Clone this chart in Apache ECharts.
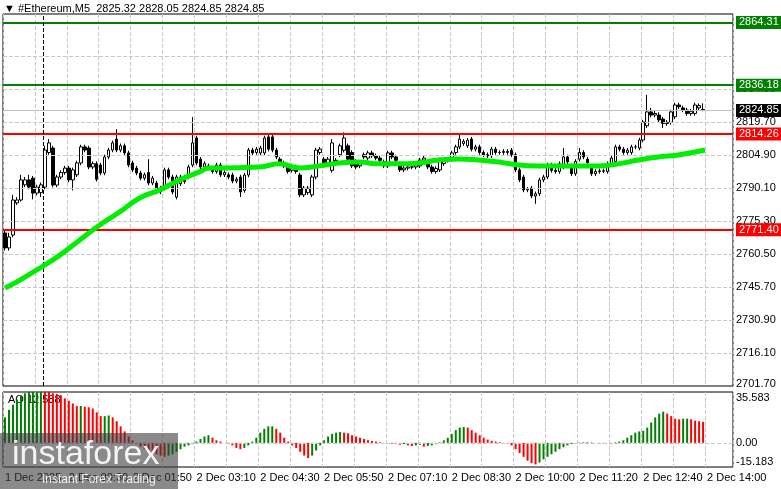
<!DOCTYPE html>
<html>
<head>
<meta charset="utf-8">
<script src="https://cdn.jsdelivr.net/npm/echarts@6/dist/echarts.min.js"></script>
<style>
html,body{margin:0;padding:0;background:#fff;}
#chart{width:781px;height:489px;}
</style>
</head>
<body>
<div id="chart"></div>
<script>
// 5分钟K线 [open, close, low, high]
var candles = [
[2769.9,2763.2,2762,2771],[2763.2,2768.1,2762,2770],[2769,2784.7,2768,2787],[2783.4,2784.7,2782.5,2786],
[2784.7,2793.7,2784,2796],[2791.5,2793.7,2790.5,2795],[2793.7,2790.5,2789.5,2796],[2794.5,2787.8,2785,2795.5],
[2787.8,2790.5,2786.8,2791.5],[2788,2791.5,2786,2792.5],[2790.5,2807.1,2789.5,2809],[2806,2810.3,2805,2812],
[2808,2791.4,2790.4,2809],[2791.4,2795,2790.4,2796],[2795,2797,2794,2798],[2797,2799,2796,2800],
[2799,2793.7,2792.7,2800],[2793.7,2798.2,2789,2799.2],[2796,2801.3,2795,2802.3],[2801.3,2808.5,2800.3,2809.5],
[2808.5,2807.1,2806.1,2809.5],[2808,2799.5,2798.5,2809],[2799.5,2801,2798.5,2802],[2801,2794,2793,2802],
[2800.4,2796.8,2795.8,2801.4],[2796.8,2804,2795.8,2805],[2804,2807.1,2803,2808.1],[2807.1,2810.3,2806.1,2811.3],
[2812,2807.1,2806.1,2816.5],[2807.1,2809,2806.1,2810],[2809,2805.8,2804.8,2810],[2805.8,2800.4,2799.4,2806.8],
[2801.3,2798.2,2797.2,2802.3],[2799,2796.8,2795.8,2800],[2796.8,2794.5,2793.5,2797.8],[2794.5,2796,2793.5,2797],
[2797,2792.3,2791.3,2803],[2792.3,2794.5,2791.3,2795.5],[2792.3,2788.3,2787.3,2793.3],[2788.3,2790,2787.3,2791],
[2790,2798.2,2789,2799.2],[2798.2,2795,2794,2799.2],[2795,2788.3,2787.3,2796],[2786,2795,2785,2796],
[2792,2795,2791,2796],[2795,2793,2792,2796],[2795,2799.5,2794,2800.5],[2800.4,2810.3,2799.4,2821.9],
[2812.5,2801.3,2800.3,2813.5],[2803,2799.5,2798.5,2804],[2799.5,2801,2798.5,2802],[2800,2799,2798,2801],
[2799,2797.5,2796.5,2800],[2797.5,2800.4,2796.5,2801.4],[2800.4,2796,2795,2801.4],[2796,2797,2795,2798],
[2796,2795,2794,2797],[2795.9,2793.2,2792.2,2796.9],[2793.2,2794,2792.2,2795],[2795,2788.3,2786,2796],
[2789,2795.9,2788,2796.9],[2795.9,2807.1,2794.9,2808.1],[2807.1,2805.8,2804.8,2808.1],[2806,2807.5,2805,2808.5],
[2805.8,2808,2804.8,2809],[2805.8,2812.5,2804.8,2813.5],[2813,2807.5,2806.5,2814],[2813,2807.1,2806.1,2814],
[2807.1,2804,2803,2808.1],[2803,2801.3,2800.3,2804],[2801.3,2800,2799,2802.3],[2800,2797.5,2796.5,2801],
[2798,2800,2797,2801],[2799.5,2797.5,2796.5,2800.5],[2795.9,2787,2786,2796.9],[2787,2790,2786,2791],
[2788,2790,2787,2791],[2787,2795,2786,2796],[2795,2807.1,2794,2808.1],[2806,2807.5,2805,2808.5],
[2803,2801,2800,2804],[2801,2803,2800,2804],[2798,2810.3,2797,2812],[2801,2802.5,2800,2803.5],
[2805,2809,2804,2810],[2807,2812.5,2806,2815],[2809,2803,2802,2810],[2806,2800,2799,2807],
[2802,2799.5,2798.5,2803],[2800,2801,2799,2802],[2805,2804,2803,2806],[2803.5,2805.8,2802.5,2806.8],
[2805.8,2804.5,2803.5,2806.8],[2804.5,2803.5,2802.5,2805.5],[2803.5,2802.5,2801.5,2804.5],[2801.8,2800,2799,2802.8],
[2800,2805.8,2799,2806.8],[2805.8,2804,2803,2806.8],[2804,2802.5,2801.5,2805],[2801,2798.2,2797.2,2802],
[2798.2,2799,2797.2,2800],[2799,2799.5,2798,2800.5],[2799.5,2799.5,2798.5,2800.5],[2799.5,2800.5,2798.5,2801.5],
[2800,2802.6,2799,2803.6],[2802.6,2803.5,2801.6,2804.5],[2801,2799.5,2798.5,2802],[2799.5,2797.5,2796.5,2800.5],
[2797.5,2798.8,2796.5,2799.8],[2798.2,2802.6,2797.2,2803.6],[2801,2802.5,2800,2803.5],[2802.5,2803,2801.5,2804],
[2803,2805.8,2802,2806.8],[2806,2808.5,2805,2809.5],[2808.5,2812,2807.5,2814],[2810,2811,2809,2812],
[2809,2811.5,2808,2812.5],[2812,2807.5,2806.5,2813],[2807.5,2808.5,2806.5,2809.5],[2808.5,2806,2805,2809.5],
[2806,2805,2804,2807],[2805,2804.5,2803.5,2806],[2804.5,2807.5,2803.5,2808.5],[2807.5,2806,2805,2808.5],
[2806,2806,2805,2807],[2806,2806.5,2805,2807.5],[2806,2806.5,2805,2807.5],[2807,2805,2804,2808],
[2805,2798.2,2797.2,2806],[2798.2,2793.7,2792.7,2799.2],[2795,2789.2,2788.2,2796],[2789.2,2789.5,2788.2,2790.5],
[2790,2786.5,2785.5,2791],[2786.5,2787.5,2783,2788.5],[2787.5,2793.7,2786.5,2794.7],[2793.7,2795,2792.7,2796],
[2795,2800.4,2794,2801.4],[2800.4,2798,2797,2801.4],[2798,2797.5,2796.5,2799],[2797.5,2801,2796.5,2802],
[2799.5,2804,2798.5,2808],[2804,2801.8,2800.8,2805],[2800,2796.5,2795.5,2801],[2796.5,2802,2795.5,2803],
[2803,2806,2802,2808],[2806,2804,2803,2807],[2803,2801.5,2800.5,2804],[2799,2796.5,2795.5,2800],
[2796.5,2797.5,2795.5,2798.5],[2797.5,2797.8,2796.5,2798.8],[2797.8,2797.6,2796.8,2798.8],[2797.5,2801,2796.5,2802],
[2801,2803.5,2800,2804.5],[2802,2808.5,2801,2809.5],[2808.5,2807.5,2806.5,2809.5],[2807.5,2806,2805,2808.5],
[2806,2807,2805,2808],[2806,2808.5,2805,2809.5],[2808.5,2808.5,2807.5,2809.5],[2808,2811.6,2807,2812.6],
[2811.6,2819.6,2810.6,2820.6],[2818,2824.2,2817,2831.8],[2824.2,2822.8,2821.8,2826],[2822.8,2823.5,2821.8,2825],
[2822.8,2820.6,2819.6,2824],[2821,2819,2817,2822],[2819,2819.5,2818,2820.5],[2819.5,2824.2,2818.5,2825.2],
[2822,2827.3,2821,2828.3],[2827.3,2826.5,2825.5,2828.3],[2826,2825.1,2824.1,2827],[2825,2823.5,2822.5,2826],
[2823.5,2824.5,2822.5,2825.5],[2823.5,2827.3,2822.5,2828.3],[2826,2827,2825,2828],[2825.32,2824.85,2824.5,2828.05]
];

// 均线（按图读出的点：[K线序号, 价格]）
var maIdx = [0, 3.75, 8.75, 13.75, 18.75, 23.75, 28.75, 33.75, 38.75, 43.75, 48.75, 51.25, 53.75, 63.75, 68.75, 73.75, 78.75, 83.75, 88.75, 93.75, 98.75, 103.75, 108.75, 113.75, 118.75, 123.75, 128.75, 133.75, 143.75, 148.75, 153.75, 158.75, 163.75, 168.75, 175.5];
var maVal = [2745.2, 2748.8, 2754.2, 2760.0, 2766.8, 2773.5, 2779.3, 2785.6, 2789.2, 2793.7, 2797.3, 2799.1, 2799.1, 2799.5, 2800.9, 2799.1, 2800.0, 2801.3, 2801.7, 2800.9, 2800.9, 2801.3, 2802.6, 2803.1, 2802.6, 2801.7, 2800.4, 2800.0, 2800.0, 2800.0, 2800.9, 2802.6, 2804.0, 2804.9, 2807.1];

// AO 指标
var aoValues = [
20,26,30,34,37,
39,40,41,41.5,42,41,40,39,38.5,37.5,
35,33,31,29,29,28.5,28,27,24,21,
21,21.5,20,17,13,9,5,
2,-1,-3,-5,-6,-8,-9,-10,-11,-10,-9,
-7,-5,-3,-2,-1,
1,3,5,6,4,2,
1,0,-1,-2,-4,-5,-4,
-2,1,4,8,11,13,
13,11,8,4,1,-2,
-4,-7,-10,-12,-10,-6,-2,
2,5,7,8,8.5,8,7.5,6,5,
4,3,2,1.5,1,0.5,0,0,-0.5,
-1,-1.5,-1,-2,-2.5,-2,-1.5,-3,-2.5,-2,-1,0.5,2,
4,7,10,12,12.5,12,10,8,
6,4,2.5,1.5,1,0.5,0,-0.5,
-2,-5,-8,-11,-14,-16,-17,-15.5,-13,
-11,-9,-7,-5,-3.5,-2,-1,0,0.3,0.5,
0.5,0.3,0,-0.5,-0.3,0,-1,0.5,1,2,
4,6,8,9,9.5,12,16,20,23,24.5,
23,21,19,18.5,19,19,18.5,17.5,17,16.5
];

var timeLabels = ['1 Dec 2025', '2 Dec 00:30', '2 Dec 01:50', '2 Dec 03:10', '2 Dec 04:30', '2 Dec 05:50',
    '2 Dec 07:10', '2 Dec 08:30', '2 Dec 10:00', '2 Dec 11:20', '2 Dec 12:40', '2 Dec 14:00'];
var gridPrices = [2716.10, 2730.90, 2745.70, 2760.50, 2775.30, 2790.10, 2804.90, 2819.70, 2834.50];
var levels = [
    {value: 2864.31, color: '#008000'},
    {value: 2836.18, color: '#008000'},
    {value: 2814.26, color: '#ff0000'},
    {value: 2771.40, color: '#ff0000'}
];
var lastPrice = 2824.85;
var aoTicks = [35.583, -15.183];

var N = 183; // 右侧留空
var cats = [];
for (var i = 0; i < N; i++) cats.push(String(i));
var aoColored = aoValues.map(function (v, i) {
    var up = i === 0 || v >= aoValues[i - 1];
    return {value: v, itemStyle: {color: up ? '#008000' : '#ff0000'}};
});
var maData = maIdx.map(function (x, i) { return [x, maVal[i]]; });

var font = 'Liberation Sans, Arial, sans-serif';
var lblStyle = {show: true, position: 'end', distance: 3, fontSize: 11, fontFamily: font};
var hidden = {color: 'rgba(0,0,0,0)', width: 1};

var gridLines = gridPrices.map(function (p) {
    return {yAxis: p, lineStyle: {color: '#c8c8c8', type: 'dashed', width: 1},
        label: Object.assign({}, lblStyle, {color: '#000', formatter: p.toFixed(2)})};
});
gridLines.push({yAxis: 2849.30, lineStyle: {color: '#c8c8c8', type: 'dashed', width: 1}, label: {show: false}});
gridLines.push({yAxis: 2702.2, lineStyle: hidden,
    label: Object.assign({}, lblStyle, {color: '#000', formatter: '2701.70'})});
var levelLines = levels.map(function (l) {
    return {yAxis: l.value, lineStyle: {color: l.color, type: 'solid', width: 2},
        label: Object.assign({}, lblStyle, {color: '#fff', backgroundColor: l.color, padding: [1, 3], formatter: l.value.toFixed(2)})};
});
levelLines.push({yAxis: lastPrice, lineStyle: {color: '#c0c0c0', type: 'solid', width: 1},
    label: Object.assign({}, lblStyle, {color: '#fff', backgroundColor: '#000', padding: [1, 3], formatter: lastPrice.toFixed(2)})});

var option = {
    animation: false,
    backgroundColor: '#fff',
    textStyle: {fontFamily: font},
    graphic: [
        {type: 'text', left: 4, top: 3, style: {text: '▼ #Ethereum,M5  2825.32 2828.05 2824.85 2824.85', fill: '#000', font: '11px ' + font}},
        {type: 'text', left: 8, top: 394, style: {text: 'AO 12.588', fill: '#000', font: '11px ' + font}},
        {type: 'rect', shape: {x: 0, y: 433, width: 178, height: 56}, style: {fill: 'rgba(60,60,60,0.6)'}, z: 100},
        {type: 'text', left: 12, top: 438, z: 101, style: {text: 'instaforex', fill: 'rgba(255,255,255,0.9)', font: '34px ' + font}},
        {type: 'text', left: 42, top: 474, z: 101, style: {text: 'Instant Forex Trading', fill: 'rgba(255,255,255,0.85)', font: '12px ' + font}}
    ],
    grid: [
        {left: 3, width: 730, top: 14, height: 372, show: true, borderColor: '#000', borderWidth: 1},
        {left: 3, width: 730, top: 392, height: 75, show: true, borderColor: '#000', borderWidth: 1}
    ],
    xAxis: [
        {type: 'category', gridIndex: 0, data: cats, boundaryGap: true,
            axisLine: {show: false}, axisTick: {show: false}, axisLabel: {show: false},
            splitLine: {show: true, interval: function (i) { return i % 8 === 0; }, lineStyle: {color: '#c8c8c8', type: 'dashed'}}},
        {type: 'value', gridIndex: 0, min: -0.5, max: N - 0.5, show: false},
        {type: 'category', gridIndex: 1, data: cats, boundaryGap: true,
            axisLine: {show: false}, axisTick: {show: false},
            axisLabel: {show: true, interval: function (i) { return i % 16 === 0 && i / 16 < timeLabels.length; },
                formatter: function (v, i) { return timeLabels[Math.round(i / 16)] || ''; },
                color: '#000', fontSize: 11, fontFamily: font, align: 'left', margin: 5},
            splitLine: {show: true, interval: function (i) { return i % 8 === 0; }, lineStyle: {color: '#c8c8c8', type: 'dashed'}}}
    ],
    yAxis: [
        {type: 'value', gridIndex: 0, min: 2701.3, max: 2868.1, show: false, splitLine: {show: false}},
        {type: 'value', gridIndex: 1, min: -19, max: 40, show: false, splitLine: {show: false}}
    ],
    series: [
        {type: 'line', xAxisIndex: 0, yAxisIndex: 0, data: [], silent: true,
            markLine: {symbol: 'none', silent: true, data: gridLines}},
        {type: 'candlestick', xAxisIndex: 0, yAxisIndex: 0, data: candles, barWidth: 3,
            itemStyle: {color: '#fff', color0: '#000', borderColor: '#000', borderColor0: '#000', borderWidth: 1}},
        {type: 'line', xAxisIndex: 1, yAxisIndex: 0, data: maData, smooth: true, symbol: 'none',
            lineStyle: {color: '#00ee00', width: 5}, z: 5},
        {type: 'line', xAxisIndex: 1, yAxisIndex: 0, data: [], silent: true,
            markLine: {symbol: 'none', silent: true, data: levelLines.concat([
                {xAxis: 9.5, lineStyle: {color: '#000', type: 'dashed', width: 1}, label: {show: false}}
            ])}, z: 6},
        {type: 'bar', xAxisIndex: 2, yAxisIndex: 1, data: aoColored, barWidth: 2,
            markLine: {symbol: 'none', silent: true, data: [
                {yAxis: 0, lineStyle: {color: '#c8c8c8', type: 'dashed', width: 1},
                    label: Object.assign({}, lblStyle, {color: '#000', formatter: '0.00'})},
                {yAxis: aoTicks[0], lineStyle: hidden, label: Object.assign({}, lblStyle, {color: '#000', formatter: '35.583'})},
                {yAxis: aoTicks[1], lineStyle: hidden, label: Object.assign({}, lblStyle, {color: '#000', formatter: '-15.183'})}
            ]}}
    ]
};

var chart = echarts.init(document.getElementById('chart'));
chart.setOption(option);
</script>
</body>
</html>
